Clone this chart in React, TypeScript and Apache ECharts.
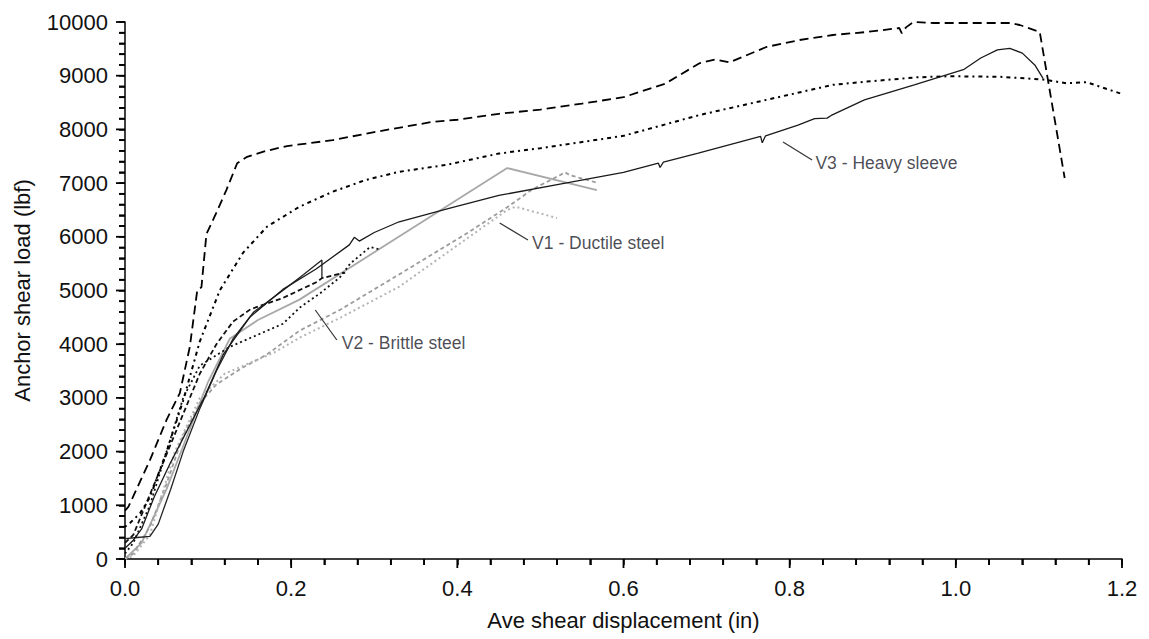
import React, { useEffect, useRef } from "react";
import * as echarts from "echarts";

// Load–displacement curves, [displacement (in), load (lbf)]

// V3 - Heavy sleeve (black)
const v3Dashed: number[][] = [
  [0, 900], [0.004, 970], [0.03, 1840], [0.05, 2590], [0.066, 3090], [0.078, 3950], [0.087, 5010],
  [0.092, 5060], [0.098, 6050], [0.11, 6450], [0.122, 6870], [0.135, 7370], [0.147, 7490],
  [0.17, 7600], [0.195, 7690], [0.25, 7800], [0.3, 7950], [0.37, 8140], [0.4, 8180], [0.45, 8290],
  [0.5, 8370], [0.55, 8480], [0.6, 8600], [0.65, 8850], [0.692, 9236], [0.71, 9300], [0.728, 9250],
  [0.772, 9535], [0.812, 9665], [0.852, 9758], [0.893, 9814], [0.932, 9888], [0.935, 9790],
  [0.94, 9900], [0.949, 10000], [0.973, 9981], [1.013, 9981], [1.065, 9981], [1.077, 9944],
  [1.101, 9814], [1.131, 7095],
];
const v3Dotted: number[][] = [
  [0, 600], [0.006, 670], [0.018, 850], [0.03, 1150], [0.05, 2000], [0.07, 2950], [0.09, 4050],
  [0.114, 5000], [0.142, 5700], [0.171, 6190], [0.21, 6560], [0.25, 6840], [0.29, 7060],
  [0.33, 7210], [0.387, 7340], [0.45, 7550], [0.5, 7650], [0.6, 7880], [0.692, 8270],
  [0.772, 8550], [0.852, 8830], [0.893, 8890], [0.953, 8970], [0.993, 8990], [1.053, 8980],
  [1.105, 8930], [1.133, 8860], [1.157, 8880], [1.2, 8660],
];
const v3Solid: number[][] = [
  [0, 200], [0.01, 350], [0.02, 560], [0.035, 1150], [0.055, 1800], [0.075, 2400], [0.095, 3000],
  [0.118, 3800], [0.15, 4500], [0.19, 5020], [0.23, 5400], [0.27, 5850], [0.276, 5990],
  [0.282, 5920], [0.3, 6080], [0.33, 6280], [0.39, 6530], [0.45, 6770], [0.53, 7000],
  [0.6, 7200], [0.642, 7370], [0.644, 7290], [0.648, 7390], [0.69, 7560], [0.765, 7870],
  [0.767, 7750], [0.771, 7880], [0.81, 8080], [0.83, 8200], [0.845, 8210], [0.85, 8260],
  [0.89, 8550], [0.95, 8830], [1.01, 9120], [1.03, 9330], [1.05, 9480], [1.065, 9510],
  [1.08, 9420], [1.095, 9200], [1.105, 8950],
];

// V2 - Brittle steel (black)
const v2Solid: number[][] = [
  [0, 380], [0.015, 400], [0.03, 420], [0.04, 650], [0.055, 1300], [0.07, 2000], [0.09, 2800],
  [0.11, 3500], [0.13, 4100], [0.155, 4600], [0.19, 5000], [0.215, 5300], [0.237, 5570],
  [0.237, 5230],
];
const v2Dashed: number[][] = [
  [0, 300], [0.01, 450], [0.03, 1200], [0.05, 1950], [0.07, 2700], [0.09, 3450], [0.11, 4000],
  [0.13, 4420], [0.151, 4650], [0.19, 4860], [0.231, 5160], [0.237, 5230], [0.26, 5320],
  [0.265, 5330],
];
const v2Dotted: number[][] = [
  [0, 100], [0.01, 300], [0.03, 1000], [0.05, 2000], [0.07, 3000], [0.09, 3600], [0.126, 3950],
  [0.15, 4110], [0.19, 4380], [0.211, 4690], [0.235, 4950], [0.259, 5250], [0.271, 5500],
  [0.295, 5810], [0.305, 5770],
];

// V1 - Ductile steel (grey)
const v1Solid: number[][] = [
  [0, 0], [0.02, 300], [0.05, 1300], [0.08, 2500], [0.1, 3300], [0.126, 4100], [0.16, 4450],
  [0.21, 4830], [0.46, 7280], [0.568, 6870],
];
const v1Dashed: number[][] = [
  [0, 0], [0.01, 100], [0.03, 600], [0.05, 1400], [0.07, 2300], [0.09, 2900], [0.11, 3250],
  [0.14, 3550], [0.17, 3800], [0.21, 4250], [0.26, 4650], [0.33, 5300], [0.41, 6050],
  [0.46, 6550], [0.49, 6880], [0.53, 7200], [0.535, 7150], [0.57, 7000],
];
const v1Dotted: number[][] = [
  [0, 0], [0.01, 60], [0.03, 450], [0.06, 2000], [0.09, 3000], [0.12, 3450], [0.15, 3650],
  [0.18, 3850], [0.21, 4120], [0.26, 4500], [0.33, 5070], [0.41, 5950], [0.46, 6500],
  [0.47, 6560], [0.52, 6350],
];

// Callouts: text, leader line start/end, text anchor (data units)
const calloutText = ["V3 - Heavy sleeve", "V1 - Ductile steel", "V2 - Brittle steel"];
const leaderStart: number[][] = [[0.792, 7765], [0.451, 6257], [0.229, 4637]];
const leaderEnd: number[][] = [[0.827, 7430], [0.485, 5940], [0.255, 4078]];
const textAnchor: number[][] = [[0.831, 7374], [0.49, 5885], [0.261, 4022]];

const X_MIN = 0;
const X_MAX = 1.2;
const X_STEP = 0.2;
const X_MINOR_PER_STEP = 5;
const Y_MIN = 0;
const Y_MAX = 10000;
const Y_STEP = 1000;
const Y_MINOR_PER_STEP = 5;

const FONT = "'Liberation Sans', Arial, Helvetica, sans-serif";

const isMultiple = (v: number, step: number) => Math.abs(v / step - Math.round(v / step)) < 1e-6;

// Tick positions as [value, isMajor]
function tickValues(min: number, max: number, step: number, perStep: number): [number, boolean][] {
  const out: [number, boolean][] = [];
  const n = Math.round((max - min) / step) * perStep;
  for (let i = 0; i <= n; i++) {
    out.push([+(min + (i * step) / perStep).toFixed(6), i % perStep === 0]);
  }
  return out;
}

function curve(name: string, data: number[][], color: string, width: number, dash: any) {
  return {
    name,
    type: "line",
    data,
    showSymbol: false,
    symbol: "none",
    silent: true,
    z: 3,
    lineStyle: { color, width, type: dash },
  };
}

export default function App() {
  const ref = useRef<HTMLDivElement>(null);

  useEffect(() => {
    if (!ref.current) return;
    const chart = echarts.init(ref.current, null, { renderer: "svg" });

    const leaderSeries = leaderStart.map((p, i) => ({
      name: "leader" + i,
      type: "line",
      data: [p, leaderEnd[i]],
      showSymbol: false,
      symbol: "none",
      silent: true,
      z: 4,
      lineStyle: { color: "#333333", width: 1.2, type: "solid" },
    }));

    const option: any = {
      animation: false,
      backgroundColor: "#ffffff",
      grid: { left: 125, right: 27, top: 22, bottom: 80, containLabel: false },
      // Axes step at the minor spacing; only the major values carry a label
      xAxis: {
        type: "value",
        min: X_MIN,
        max: X_MAX,
        interval: X_STEP / X_MINOR_PER_STEP,
        name: "Ave shear displacement (in)",
        nameLocation: "middle",
        nameGap: 50,
        nameTextStyle: { color: "#111", fontSize: 22, fontFamily: FONT },
        axisLine: { show: true, onZero: false, lineStyle: { color: "#000", width: 1.5 } },
        axisTick: { show: true, inside: false, length: 6, lineStyle: { color: "#000", width: 1.5 } },
        splitLine: { show: false },
        axisLabel: {
          color: "#111",
          fontSize: 22,
          fontFamily: FONT,
          margin: 18,
          interval: 0,
          hideOverlap: false,
          formatter: (v: number) => (isMultiple(v, X_STEP) ? v.toFixed(1) : ""),
        },
      },
      yAxis: {
        type: "value",
        min: Y_MIN,
        max: Y_MAX,
        interval: Y_STEP / Y_MINOR_PER_STEP,
        name: "Anchor shear load (lbf)",
        nameLocation: "middle",
        nameGap: 92,
        nameRotate: 90,
        nameTextStyle: { color: "#111", fontSize: 22, fontFamily: FONT },
        axisLine: { show: true, onZero: false, lineStyle: { color: "#000", width: 1.5 } },
        axisTick: { show: true, inside: false, length: 6, lineStyle: { color: "#000", width: 1.5 } },
        splitLine: { show: false },
        axisLabel: {
          color: "#111",
          fontSize: 22,
          fontFamily: FONT,
          margin: 17,
          interval: 0,
          hideOverlap: false,
          formatter: (v: number) => (isMultiple(v, Y_STEP) ? String(Math.round(v)) : ""),
        },
      },
      series: [
        curve("V1 solid", v1Solid, "#a8a8a8", 1.8, "solid"),
        curve("V1 dashed", v1Dashed, "#9c9c9c", 1.8, [4, 3]),
        curve("V1 dotted", v1Dotted, "#b4b4b4", 2, [2, 3]),
        curve("V2 dotted", v2Dotted, "#111", 1.8, [2, 3]),
        curve("V2 dashed", v2Dashed, "#111", 1.8, [5, 3]),
        curve("V2 solid", v2Solid, "#222", 1.3, "solid"),
        curve("V3 dotted", v3Dotted, "#000", 2, [2, 4, 4, 4]),
        curve("V3 dashed", v3Dashed, "#000", 1.8, [9, 5]),
        curve("V3 solid", v3Solid, "#1a1a1a", 1.3, "solid"),
        ...leaderSeries,
        {
          name: "callouts",
          type: "scatter",
          symbolSize: 0,
          silent: true,
          z: 5,
          data: textAnchor.map((p, i) => ({ value: p, name: calloutText[i] })),
          label: {
            show: true,
            position: "right",
            distance: 0,
            formatter: (p: any) => p.name,
            color: "#1c1c2a",
            fontSize: 17.5,
            fontFamily: FONT,
          },
        },
      ],
    };

    chart.setOption(option);

    // Longer marks at the labelled values, positioned through the grid's scales
    const toPx = (x: number, y: number) =>
      chart.convertToPixel({ xAxisIndex: 0, yAxisIndex: 0 }, [x, y]) as number[];
    const tickStyle = { stroke: "#000", lineWidth: 1.8 };
    const ticks: any[] = [];
    tickValues(X_MIN, X_MAX, X_STEP, X_MINOR_PER_STEP).forEach(([v, major]) => {
      const p = toPx(v, Y_MIN);
      const len = major ? 9 : 6;
      ticks.push({
        type: "line",
        silent: true,
        z: 50,
        shape: { x1: p[0], y1: p[1], x2: p[0], y2: p[1] + len },
        style: tickStyle,
      });
    });
    tickValues(Y_MIN, Y_MAX, Y_STEP, Y_MINOR_PER_STEP).forEach(([v, major]) => {
      const p = toPx(X_MIN, v);
      const len = major ? 9 : 6;
      ticks.push({
        type: "line",
        silent: true,
        z: 50,
        shape: { x1: p[0], y1: p[1], x2: p[0] - len, y2: p[1] },
        style: tickStyle,
      });
    });
    chart.setOption({ graphic: { elements: ticks } });

    return () => chart.dispose();
  }, []);

  return (
    <div
      ref={ref}
      style={{ position: "fixed", left: 0, top: 0, width: 1149, height: 639, background: "#fff" }}
    />
  );
}
